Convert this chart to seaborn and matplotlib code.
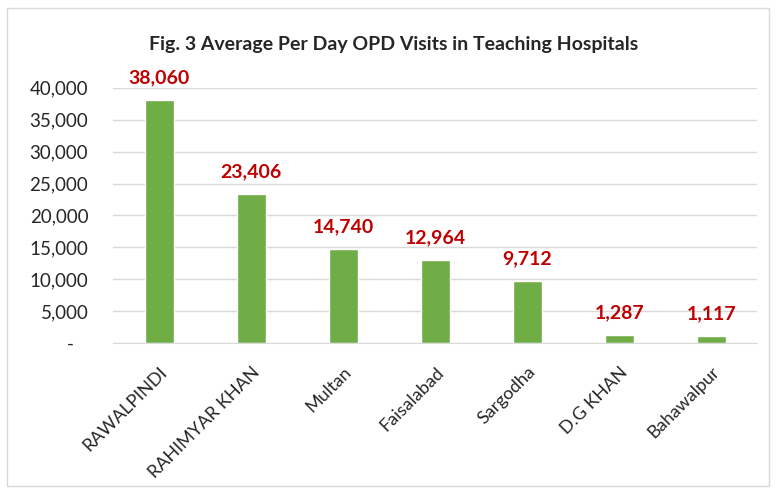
import numpy as np
import pandas as pd
import seaborn as sns
import matplotlib.pyplot as plt
from matplotlib.patches import Rectangle

hospitals = ["RAWALPINDI", "RAHIMYAR KHAN", "Multan", "Faisalabad",
             "Sargodha", "D.G KHAN", "Bahawalpur"]
visits = [38060, 23406, 14740, 12964, 9712, 1287, 1117]
yticks = [0, 5000, 10000, 15000, 20000, 25000, 30000, 35000, 40000]

df = pd.DataFrame({"hospital": hospitals, "visits": visits})

sns.set_style("white")
plt.rcParams['font.family'] = ['Lato', 'DejaVu Sans']

fig = plt.figure(figsize=(7.76, 4.93), dpi=100)
ax = fig.add_axes([0.146, 0.304, 0.83, 0.518])

sns.barplot(data=df, x="hospital", y="visits", color="#70AD47",
            width=0.31, saturation=1, ax=ax)

ax.set_ylim(0, 40000)
ax.set_yticks(yticks)
# accounting style: zero shown as a dash
ax.set_yticklabels(["-   " if v == 0 else f"{v:,}" for v in yticks], fontsize=13.5)
ax.yaxis.grid(True, color="#D9D9D9", linewidth=1)
ax.set_axisbelow(True)
for s in ["top", "right", "left"]:
    ax.spines[s].set_visible(False)
ax.spines["bottom"].set_color("#D9D9D9")
ax.tick_params(axis="y", length=0, pad=18)
ax.tick_params(axis="x", length=0, pad=15)
ax.set_xlabel("")
ax.set_ylabel("")
plt.setp(ax.get_xticklabels(), rotation=45, ha="right", rotation_mode="anchor",
         fontsize=13)

for i, v in enumerate(visits):
    ax.annotate(f"{v:,}", (i, v), xytext=(0, 10), textcoords="offset points",
                ha="center", va="bottom", color="#C00000", fontsize=14,
                fontweight="bold", annotation_clip=False)

fig.text(0.507, 0.91, "Fig. 3 Average Per Day OPD Visits in Teaching Hospitals",
         ha="center", va="center", fontsize=14, fontweight="bold")

fig.patches.append(Rectangle((0.009, 0.015), 0.982, 0.968, transform=fig.transFigure,
                             fill=False, edgecolor="#D9D9D9", linewidth=1))

plt.savefig("out.png", dpi=100)
